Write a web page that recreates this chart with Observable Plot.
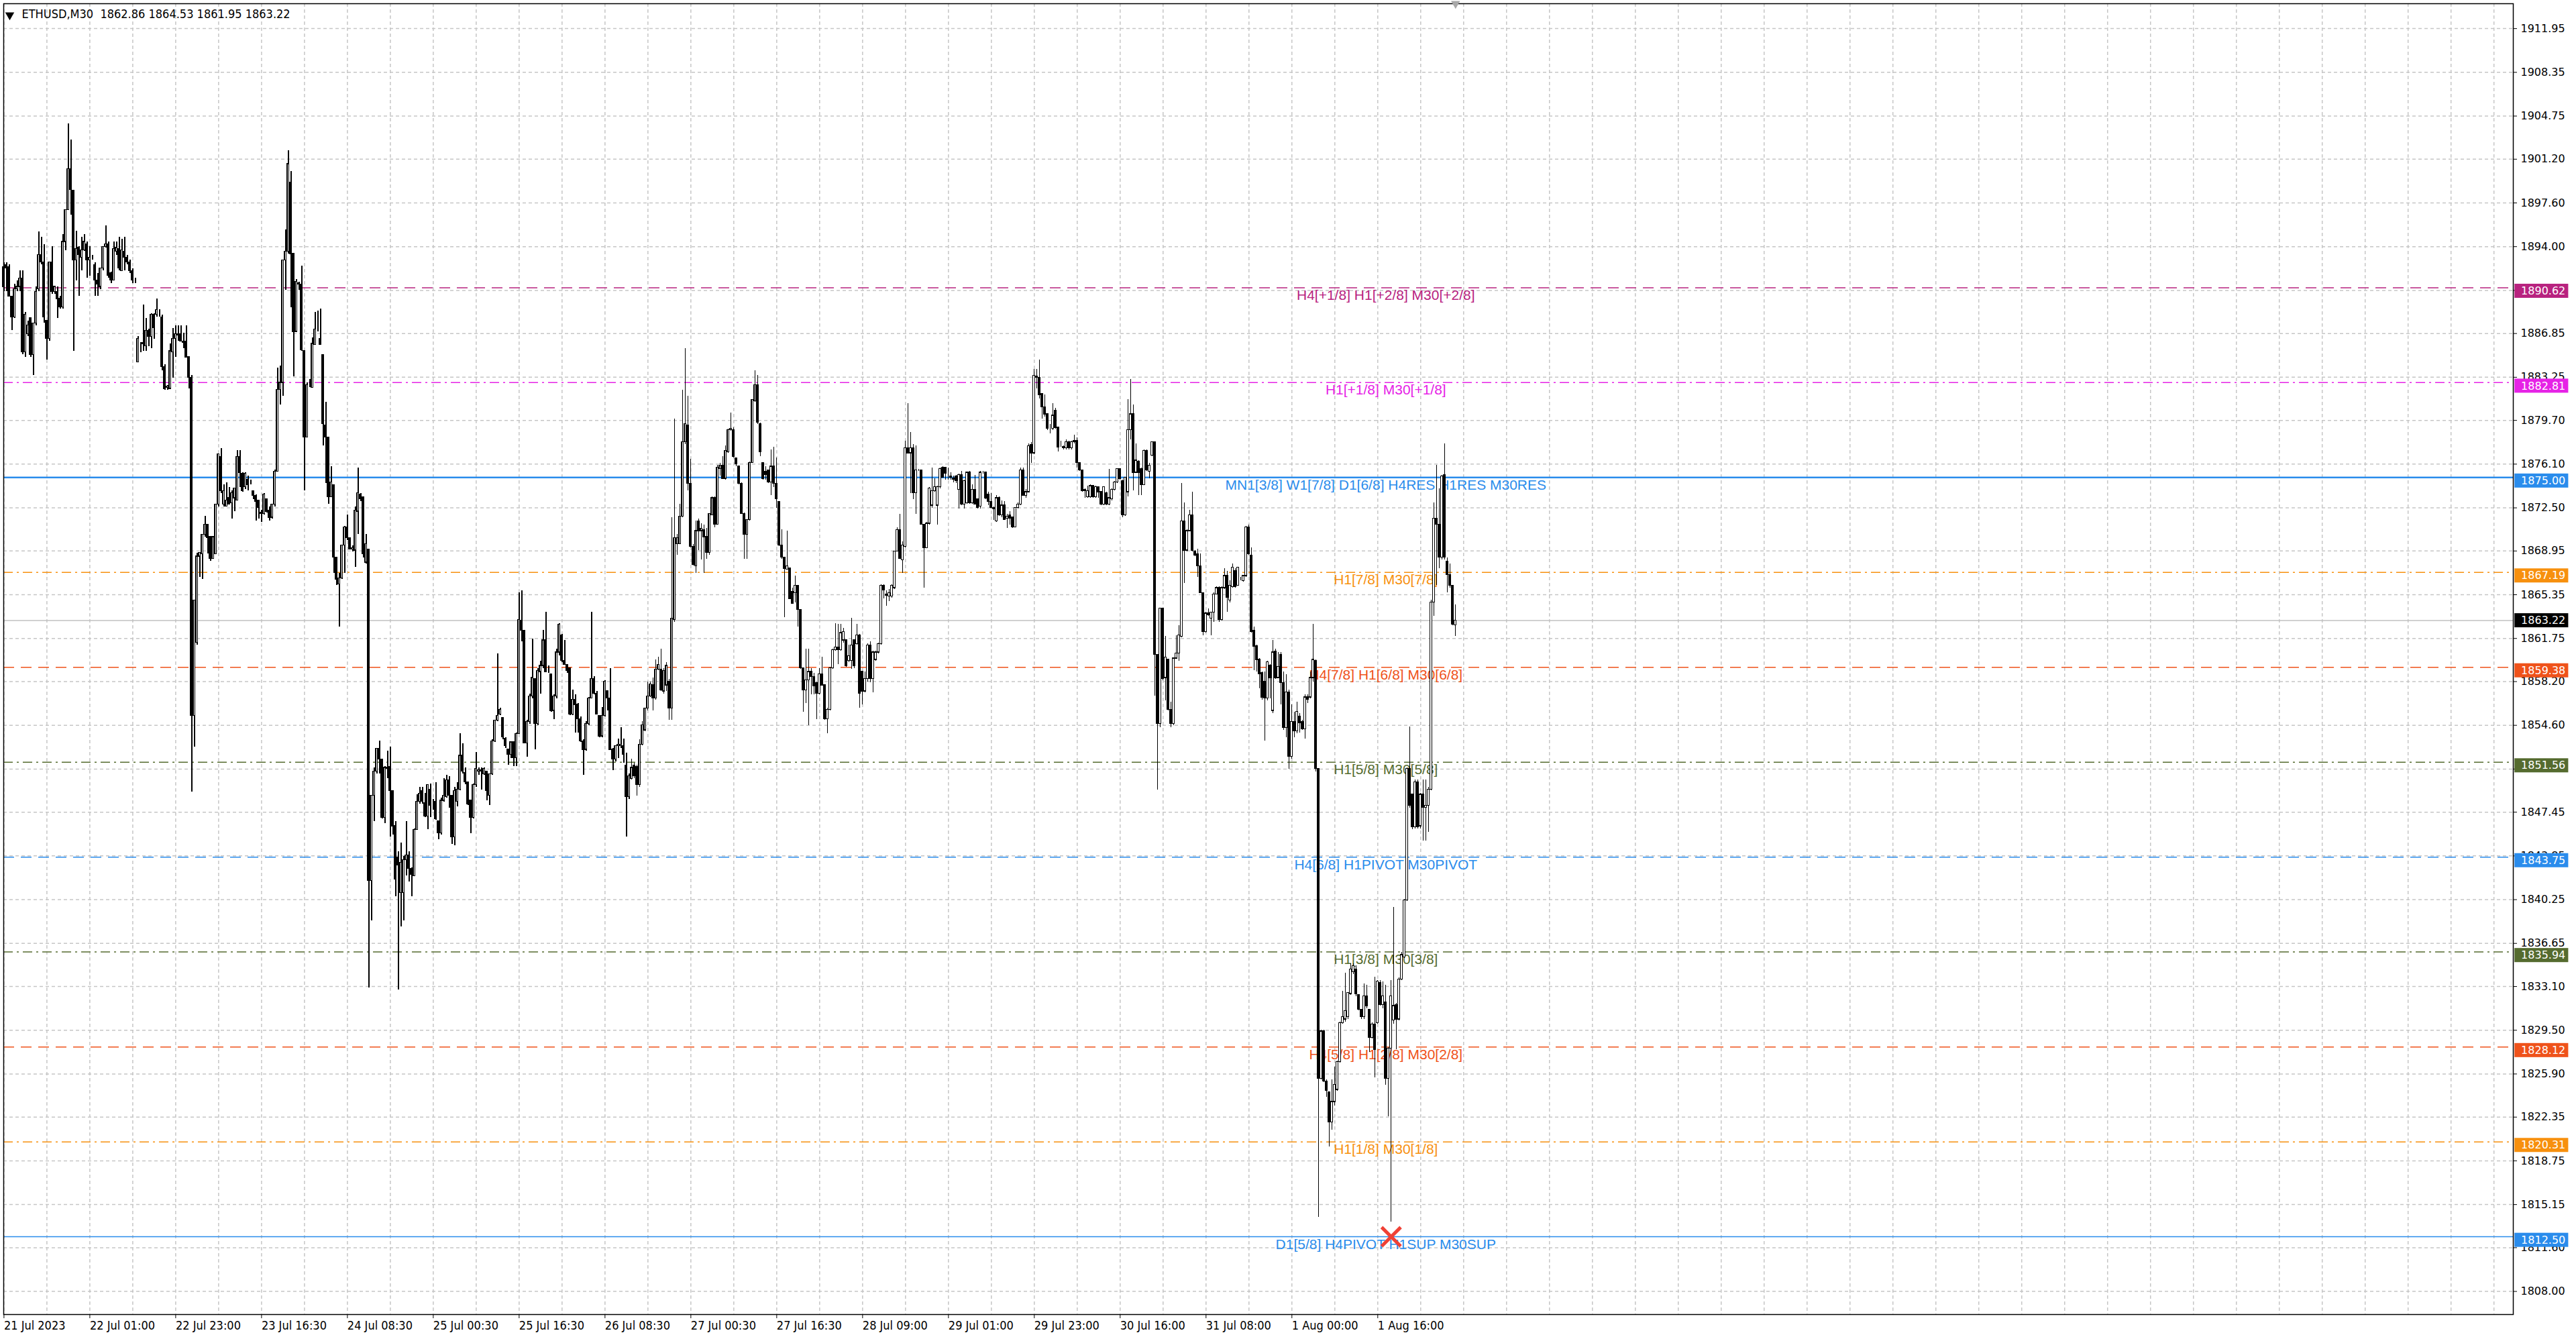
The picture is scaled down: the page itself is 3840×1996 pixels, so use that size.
<!DOCTYPE html>
<html>
<head>
<meta charset="utf-8">
<script src="https://cdn.jsdelivr.net/npm/d3@7"></script>
<script src="https://cdn.jsdelivr.net/npm/@observablehq/plot@0.6"></script>
<style>
  html, body { margin: 0; padding: 0; background: #fff; }
  #chart { width: 3840px; height: 1996px; overflow: hidden; }
</style>
</head>
<body>
<div id="chart"></div>
<script>
// ETHUSD M30 candles, bar 0 = 21 Jul 2023
const open = [
  1890.7,1892.5,1892.3,1889.9,1888.2,1890.5,1890.7,1891.4,1885.3,1886.8,
  1888.1,1885.1,1887.7,1890.5,1893.3,1892.7,1887.9,1886.4,1892.7,1890.3,
  1890.3,1889.7,1889.0,1894.4,1897.0,1900.4,1898.6,1892.9,1893.9,1893.1,
  1893.7,1894.2,1892.9,1893.1,1892.5,1891.2,1890.7,1892.2,1894.0,1894.2,
  1891.8,1891.2,1893.6,1893.8,1892.0,1893.6,1893.1,1892.7,1892.0,1891.3,
  1884.5,1886.0,1886.0,1885.8,1887.1,1886.6,1888.4,1888.4,1888.5,1888.2,
  1884.1,1882.4,1882.3,1885.3,1886.4,1886.8,1886.8,1886.2,1886.2,1884.9,
  1883.2,1855.4,1861.4,1868.5,1868.7,1870.3,1871.1,1870.1,1868.3,1868.7,
  1872.8,1876.7,1872.8,1872.6,1873.3,1872.9,1873.3,1873.1,1876.7,1875.3,
  1874.2,1874.8,1874.6,1873.9,1873.5,1873.1,1872.1,1872.0,1873.2,1872.3,
  1871.7,1872.8,1875.5,1882.2,1882.8,1892.9,1893.6,1899.3,1893.4,1887.0,
  1891.0,1890.9,1885.4,1878.3,1882.5,1882.4,1885.9,1887.1,1886.4,1885.1,
  1879.3,1878.3,1873.4,1874.4,1868.4,1866.2,1866.7,1869.4,1870.9,1870.0,
  1869.1,1869.0,1872.2,1873.6,1873.4,1868.0,1869.1,1841.8,1848.8,1850.8,
  1852.7,1851.8,1847.0,1851.0,1851.2,1849.2,1846.3,1843.7,1840.8,1840.8,
  1843.5,1843.9,1842.8,1842.2,1846.0,1848.3,1849.2,1848.2,1847.1,1849.3,
  1848.1,1848.3,1846.7,1845.7,1848.4,1848.7,1850.1,1848.8,1845.4,1848.3,
  1849.3,1852.1,1850.7,1849.9,1848.4,1847.0,1849.7,1850.8,1850.9,1850.6,
  1850.8,1848.8,1850.6,1853.3,1855.0,1855.5,1855.2,1853.5,1852.6,1852.2,
  1853.2,1851.9,1853.9,1863.2,1862.4,1853.1,1854.9,1857.0,1858.4,1854.7,
  1859.0,1859.5,1861.6,1859.0,1858.8,1855.8,1857.0,1860.6,1862.0,1859.9,
  1859.6,1859.3,1855.5,1856.7,1856.3,1855.1,1853.3,1852.6,1854.7,1856.8,
  1858.4,1857.2,1855.4,1853.7,1855.4,1857.4,1856.8,1852.6,1851.8,1852.9,
  1852.9,1852.9,1851.3,1848.7,1850.2,1851.3,1851.2,1849.7,1853.0,1854.2,
  1856.0,1857.0,1857.9,1856.8,1859.2,1859.2,1857.4,1857.9,1858.2,1856.0,
  1863.3,1869.5,1869.5,1871.8,1877.9,1879.3,1874.5,1869.3,1867.7,1871.4,
  1870.6,1870.7,1870.1,1868.8,1871.9,1873.3,1871.1,1875.7,1876.0,1874.9,
  1877.1,1878.9,1878.9,1876.6,1875.9,1874.5,1872.0,1870.3,1871.5,1876.2,
  1881.3,1882.6,1879.4,1876.2,1875.5,1875.6,1874.6,1875.9,1874.5,1873.0,
  1869.4,1868.4,1867.4,1867.5,1865.6,1865.5,1866.1,1864.1,1859.3,1857.5,
  1858.3,1859.0,1858.6,1858.1,1857.2,1858.8,1857.9,1855.1,1855.9,1859.3,
  1860.8,1861.0,1860.8,1861.6,1861.6,1859.9,1859.9,1861.6,1861.3,1862.0,
  1859.0,1857.4,1858.4,1861.2,1858.4,1860.0,1860.6,1861.3,1866.1,1865.4,
  1865.2,1865.2,1865.9,1868.9,1870.7,1868.2,1869.3,1877.4,1877.0,1877.4,
  1873.7,1875.6,1875.6,1871.1,1869.2,1871.2,1872.7,1873.9,1872.7,1874.2,
  1875.8,1875.8,1875.3,1875.1,1874.9,1875.1,1874.0,1875.2,1872.8,1872.9,
  1875.4,1872.9,1874.0,1873.2,1872.6,1875.4,1875.4,1873.6,1873.0,1872.5,
  1871.4,1873.3,1871.9,1872.7,1871.6,1871.9,1871.7,1870.9,1872.5,1872.8,
  1875.6,1873.5,1873.8,1877.7,1877.0,1883.2,1883.2,1881.9,1880.8,1880.2,
  1879.0,1879.0,1880.5,1879.1,1877.6,1877.5,1877.4,1877.9,1877.4,1877.9,
  1878.0,1876.2,1875.6,1874.0,1873.4,1873.4,1874.3,1873.4,1874.2,1873.8,
  1872.8,1873.7,1872.8,1873.2,1874.0,1874.6,1875.7,1874.7,1871.9,1873.8,
  1878.9,1880.2,1875.4,1876.3,1875.7,1874.4,1877.2,1875.5,1876.8,1877.9,
  1860.4,1854.7,1864.2,1858.5,1860.0,1855.9,1854.7,1860.1,1860.5,1861.9,
  1871.4,1869.0,1870.6,1871.9,1868.9,1868.7,1867.7,1865.5,1862.3,1863.8,
  1863.4,1863.9,1865.4,1865.9,1863.3,1865.9,1866.9,1864.9,1866.0,1867.3,
  1866.1,1866.7,1866.5,1866.9,1870.9,1868.6,1862.4,1861.1,1860.0,1858.9,
  1858.2,1856.8,1859.5,1855.8,1860.7,1858.5,1860.4,1858.1,1854.4,1857.3,
  1852.0,1854.9,1854.1,1855.3,1854.9,1854.3,1856.9,1856.9,1858.5,1859.9,
  1851.0,1825.5,1829.4,1825.3,1824.4,1821.9,1823.6,1824.6,1826.9,1830.1,
  1830.4,1830.6,1832.5,1834.3,1834.5,1832.4,1831.2,1830.6,1832.3,1831.2,
  1828.9,1830.0,1830.1,1833.4,1831.6,1831.8,1825.5,1828.0,1830.3,1831.6,
  1830.4,1833.7,1835.5,1840.2,1851.0,1848.9,1846.2,1849.9,1846.3,1848.9,
  1847.8,1848.0,1849.3,1864.7,1871.6,1871.1,1868.4,1875.2,1868.1,1867.0,
  1866.1,1862.86
];
const high = [
  1892.7,1892.7,1892.5,1889.9,1890.9,1891.2,1892.0,1892.0,1888.6,1887.9,
  1888.1,1887.7,1890.7,1895.2,1894.8,1894.2,1887.9,1892.7,1894.0,1890.7,
  1890.7,1889.9,1895.0,1897.0,1904.1,1902.8,1898.6,1895.3,1894.0,1894.8,
  1895.0,1894.4,1894.0,1893.3,1892.7,1891.8,1892.2,1894.0,1895.7,1894.4,
  1891.9,1894.4,1894.4,1894.8,1894.6,1894.8,1893.3,1892.9,1892.2,1891.4,
  1886.6,1886.1,1889.2,1888.1,1887.2,1888.5,1888.5,1889.7,1888.8,1888.4,
  1884.3,1882.6,1886.0,1887.3,1887.5,1887.5,1887.5,1886.9,1887.5,1884.9,
  1883.4,1864.9,1868.8,1868.8,1870.3,1871.8,1871.1,1870.1,1870.1,1872.8,
  1876.9,1877.4,1874.4,1874.6,1874.2,1873.9,1874.1,1877.2,1877.2,1875.4,
  1875.4,1875.1,1874.8,1873.9,1873.6,1873.1,1872.3,1873.7,1873.2,1872.6,
  1872.8,1875.6,1884.0,1884.2,1892.9,1895.4,1901.9,1900.2,1893.4,1891.3,
  1891.1,1892.4,1885.4,1882.8,1883.1,1886.5,1888.6,1888.7,1888.9,1885.1,
  1881.2,1878.3,1875.9,1874.4,1868.4,1867.1,1869.4,1871.0,1871.9,1870.0,
  1869.4,1872.6,1875.8,1873.7,1873.4,1870.3,1869.1,1848.8,1851.1,1852.7,
  1853.3,1851.8,1851.2,1852.5,1852.8,1849.2,1846.7,1844.2,1844.9,1843.8,
  1846.7,1844.2,1842.9,1846.1,1848.9,1849.5,1849.5,1849.0,1849.7,1849.8,
  1848.5,1849.9,1846.7,1848.6,1850.2,1850.5,1850.4,1848.8,1849.5,1849.9,
  1853.9,1853.1,1851.1,1849.9,1848.4,1849.8,1852.4,1851.1,1851.1,1851.1,
  1850.8,1850.6,1853.4,1855.0,1860.5,1856.0,1855.2,1853.6,1852.6,1853.2,
  1853.2,1854.0,1865.5,1865.7,1862.4,1855.0,1857.2,1861.7,1858.4,1859.3,
  1859.9,1862.4,1863.9,1859.5,1858.8,1857.1,1860.9,1863.0,1862.1,1861.6,
  1859.6,1859.3,1857.5,1857.1,1856.4,1855.3,1853.4,1854.9,1856.9,1863.9,
  1858.6,1857.4,1855.4,1856.1,1858.3,1857.4,1859.3,1852.7,1852.9,1853.5,
  1854.4,1853.5,1852.3,1850.6,1851.8,1851.5,1851.3,1853.4,1854.9,1856.0,
  1858.2,1858.2,1858.5,1860.0,1860.2,1860.9,1859.3,1859.8,1858.4,1871.7,
  1879.8,1870.3,1872.8,1882.2,1885.6,1881.7,1876.5,1869.5,1871.4,1871.6,
  1871.2,1871.1,1870.8,1872.0,1873.4,1873.4,1876.0,1876.2,1876.7,1877.6,
  1879.0,1880.3,1879.1,1876.6,1875.9,1874.6,1872.1,1871.5,1876.3,1881.4,
  1883.8,1883.4,1879.5,1876.2,1875.9,1875.6,1877.3,1877.5,1876.6,1873.0,
  1870.7,1868.4,1870.6,1867.5,1865.9,1866.9,1866.1,1864.1,1859.3,1860.9,
  1860.9,1859.3,1858.9,1858.2,1859.3,1860.2,1857.9,1856.0,1859.4,1860.9,
  1863.0,1862.9,1862.9,1862.6,1861.6,1861.2,1863.4,1861.6,1862.9,1862.1,
  1859.0,1859.0,1861.3,1861.5,1860.7,1860.7,1861.4,1866.2,1866.2,1865.7,
  1865.8,1866.2,1868.9,1870.9,1872.0,1869.7,1878.0,1881.1,1878.7,1877.7,
  1877.6,1875.7,1875.6,1871.1,1871.3,1874.2,1875.8,1874.9,1874.3,1875.8,
  1875.9,1875.8,1875.8,1875.4,1875.1,1875.2,1875.3,1875.5,1874.8,1875.4,
  1875.5,1874.4,1875.2,1873.2,1875.5,1875.5,1875.4,1873.8,1873.7,1872.6,
  1873.5,1873.4,1873.1,1873.0,1872.0,1872.2,1871.7,1872.5,1872.9,1875.8,
  1875.8,1874.0,1877.8,1877.9,1883.9,1883.9,1884.7,1881.9,1881.8,1880.2,
  1879.4,1881.1,1880.7,1879.1,1878.0,1877.6,1878.1,1878.0,1878.0,1878.5,
  1878.3,1876.2,1875.6,1874.1,1874.3,1874.4,1874.3,1874.3,1874.2,1873.8,
  1874.2,1873.8,1875.7,1874.1,1874.7,1875.7,1875.7,1874.8,1875.0,1881.4,
  1883.1,1881.0,1877.8,1876.4,1875.8,1877.3,1877.3,1876.2,1877.9,1877.9,
  1860.4,1864.2,1864.2,1861.9,1860.0,1856.5,1860.1,1862.0,1862.8,1874.5,
  1872.9,1870.7,1872.3,1873.8,1869.0,1869.1,1868.7,1865.5,1863.9,1864.2,
  1863.9,1865.5,1866.0,1866.0,1866.0,1867.5,1867.3,1866.5,1867.9,1867.5,
  1867.6,1866.8,1866.9,1871.0,1871.1,1869.2,1862.7,1861.2,1860.1,1859.0,
  1859.0,1859.9,1859.6,1861.6,1860.9,1860.6,1860.6,1859.0,1858.8,1857.5,
  1856.3,1855.7,1856.5,1855.6,1855.0,1857.1,1857.1,1859.0,1862.9,1860.0,
  1851.0,1829.5,1829.5,1825.4,1824.4,1825.4,1826.5,1827.0,1830.2,1832.7,
  1834.2,1832.6,1835.0,1835.0,1834.8,1832.4,1831.2,1833.3,1833.2,1831.2,
  1830.1,1833.9,1833.6,1833.6,1833.5,1833.2,1828.1,1833.6,1839.6,1831.7,
  1833.8,1835.9,1840.3,1851.1,1854.5,1848.9,1850.1,1850.1,1849.0,1850.1,
  1850.1,1849.5,1864.9,1872.9,1876.0,1874.1,1875.2,1877.8,1868.4,1867.9,
  1866.1,1864.53
];
const low = [
  1890.3,1890.3,1889.9,1887.1,1888.1,1890.3,1890.3,1885.1,1884.9,1886.6,
  1884.9,1883.4,1887.5,1890.3,1892.5,1887.7,1884.7,1886.2,1890.1,1890.1,
  1888.1,1888.9,1888.9,1893.7,1897.0,1896.6,1885.4,1891.2,1889.9,1892.0,
  1893.6,1891.4,1891.6,1892.9,1889.9,1889.9,1890.5,1892.0,1893.9,1891.4,
  1891.0,1891.2,1893.3,1892.0,1892.0,1892.0,1892.5,1891.8,1891.0,1891.0,
  1884.5,1885.3,1885.4,1885.4,1885.8,1885.6,1886.4,1888.2,1888.2,1883.8,
  1882.2,1882.2,1882.3,1883.2,1884.9,1886.2,1886.2,1885.6,1884.9,1882.3,
  1849.1,1852.8,1861.2,1866.8,1866.6,1870.1,1868.7,1868.1,1868.3,1868.7,
  1872.6,1873.7,1872.6,1872.6,1872.8,1871.6,1872.2,1873.1,1874.2,1873.8,
  1874.0,1873.9,1874.4,1873.2,1871.4,1871.6,1871.3,1871.9,1872.1,1871.4,
  1871.6,1872.6,1875.5,1881.0,1881.7,1890.4,1893.4,1889.0,1883.3,1887.0,
  1890.4,1885.4,1873.9,1878.3,1882.4,1882.4,1885.9,1887.0,1885.9,1877.6,
  1874.5,1872.8,1873.4,1867.1,1866.1,1862.7,1866.6,1867.1,1869.8,1869.1,
  1868.9,1867.6,1870.3,1873.0,1868.4,1867.9,1833.0,1838.5,1846.7,1850.6,
  1850.6,1846.9,1846.5,1850.2,1845.4,1845.6,1840.5,1832.8,1838.0,1838.5,
  1842.2,1841.7,1840.5,1842.2,1846.0,1848.1,1848.1,1847.0,1846.0,1847.0,
  1847.6,1846.8,1845.2,1845.6,1848.3,1848.6,1847.8,1844.8,1844.7,1847.9,
  1849.2,1850.6,1849.7,1848.0,1845.7,1846.9,1849.5,1850.5,1849.3,1850.5,
  1848.4,1848.0,1850.5,1853.2,1854.9,1855.4,1853.4,1852.7,1851.3,1851.9,
  1851.2,1851.2,1853.9,1861.5,1853.1,1852.0,1854.7,1856.8,1852.6,1854.6,
  1857.2,1859.3,1859.0,1858.9,1855.7,1855.1,1856.8,1860.3,1859.8,1859.6,
  1858.9,1855.4,1855.4,1854.0,1854.0,1853.2,1850.5,1852.5,1854.6,1856.8,
  1857.1,1855.5,1853.6,1853.6,1855.3,1855.8,1852.6,1850.9,1851.6,1851.9,
  1852.7,1851.5,1845.4,1848.5,1850.1,1850.2,1848.8,1849.5,1852.9,1854.1,
  1855.8,1856.9,1855.8,1856.7,1859.1,1857.4,1857.2,1857.4,1855.0,1855.0,
  1863.1,1868.6,1869.5,1871.7,1877.7,1873.9,1869.2,1867.7,1867.1,1869.0,
  1868.2,1867.1,1868.3,1868.6,1871.9,1870.9,1871.1,1875.1,1874.9,1874.8,
  1877.0,1878.8,1876.6,1875.9,1874.4,1872.0,1868.3,1868.3,1871.4,1876.2,
  1881.2,1879.4,1876.7,1874.8,1874.8,1874.5,1873.5,1874.2,1872.5,1869.3,
  1868.3,1863.5,1867.4,1865.0,1864.6,1864.7,1862.7,1859.2,1855.7,1856.4,
  1854.6,1857.1,1857.1,1855.1,1857.1,1857.9,1855.0,1853.9,1855.8,1859.2,
  1860.7,1859.6,1860.7,1861.4,1859.4,1859.8,1859.2,1859.3,1861.2,1856.0,
  1856.3,1857.3,1858.2,1858.1,1857.3,1859.9,1860.5,1861.2,1865.0,1864.4,
  1864.8,1865.1,1865.8,1868.9,1868.3,1867.1,1869.2,1877.0,1873.7,1873.2,
  1872.0,1875.5,1871.1,1865.9,1869.2,1871.1,1872.5,1873.8,1871.1,1874.1,
  1875.0,1874.8,1874.8,1874.8,1874.6,1874.5,1872.4,1872.7,1872.4,1872.8,
  1872.8,1872.8,1872.8,1872.4,1872.4,1875.3,1873.2,1872.7,1872.4,1871.5,
  1871.3,1871.8,1871.7,1871.5,1870.8,1871.1,1870.8,1870.9,1872.4,1872.7,
  1873.5,1873.3,1873.8,1876.2,1876.9,1882.3,1881.5,1879.8,1880.0,1878.9,
  1878.6,1878.9,1879.0,1877.1,1877.5,1877.3,1877.3,1877.3,1877.3,1877.8,
  1875.8,1875.5,1873.8,1873.3,1873.3,1873.3,1873.3,1873.3,1873.3,1872.7,
  1872.7,1872.7,1872.7,1873.1,1873.9,1874.5,1874.8,1871.7,1871.8,1873.4,
  1878.1,1873.9,1875.4,1873.5,1873.5,1874.4,1875.5,1874.9,1876.7,1857.0,
  1849.3,1854.4,1858.3,1856.6,1855.8,1854.4,1854.6,1860.1,1859.9,1861.8,
  1866.3,1868.9,1870.6,1868.9,1868.5,1866.8,1865.5,1862.0,1862.2,1863.6,
  1862.0,1863.1,1865.4,1863.1,1863.2,1865.8,1863.9,1864.7,1865.9,1865.9,
  1866.1,1866.5,1866.4,1866.8,1868.6,1862.2,1859.1,1859.0,1857.6,1856.7,
  1853.3,1856.6,1856.8,1855.6,1858.4,1858.5,1856.3,1854.2,1853.6,1851.0,
  1851.8,1853.6,1853.9,1854.0,1854.2,1853.5,1856.4,1856.8,1858.2,1850.8,
  1814.1,1825.4,1825.2,1824.0,1819.9,1821.3,1823.3,1824.5,1826.8,1830.0,
  1830.2,1830.4,1832.4,1834.1,1832.3,1831.1,1830.4,1830.4,1831.3,1827.7,
  1828.8,1825.6,1830.0,1831.5,1831.3,1825.0,1822.4,1813.7,1830.0,1827.9,
  1830.3,1833.6,1835.4,1840.1,1847.8,1846.0,1846.1,1846.1,1846.1,1845.1,
  1845.1,1845.8,1849.2,1863.6,1866.1,1867.5,1868.2,1868.2,1865.5,1865.9,
  1862.8,1861.95
];
const close = [
  1892.3,1892.2,1889.9,1888.2,1890.5,1890.7,1891.4,1885.3,1888.4,1887.5,
  1885.1,1887.7,1890.3,1893.3,1892.7,1888.2,1886.4,1892.7,1890.3,1890.7,
  1889.7,1889.0,1894.4,1897.0,1900.4,1898.7,1892.9,1893.8,1893.3,1893.7,
  1894.4,1892.9,1893.1,1893.1,1891.2,1890.9,1892.2,1894.0,1894.2,1891.6,
  1891.2,1893.8,1893.9,1892.2,1893.7,1893.1,1892.7,1892.0,1891.2,1891.3,
  1886.4,1886.0,1886.1,1887.1,1886.6,1888.4,1887.3,1888.8,1888.5,1884.1,
  1882.3,1882.5,1885.4,1886.4,1886.8,1886.7,1886.2,1886.1,1884.9,1883.2,
  1855.4,1864.9,1868.5,1868.8,1870.3,1871.1,1870.0,1868.3,1870.1,1872.8,
  1876.9,1873.9,1873.9,1873.1,1872.8,1873.7,1874.1,1876.7,1875.4,1873.9,
  1875.3,1874.4,1874.6,1873.5,1873.0,1872.5,1872.0,1873.6,1872.2,1871.7,
  1872.8,1875.5,1882.2,1882.8,1892.9,1893.6,1900.8,1893.4,1887.0,1891.1,
  1890.9,1885.5,1878.3,1882.6,1882.5,1886.0,1887.2,1887.1,1885.9,1879.4,
  1878.3,1873.4,1874.6,1868.4,1866.6,1866.7,1869.4,1870.9,1870.0,1869.1,
  1869.2,1872.3,1873.7,1873.2,1868.7,1869.5,1841.8,1848.8,1850.8,1852.7,
  1851.8,1847.0,1851.1,1851.1,1849.2,1846.3,1841.9,1843.1,1843.3,1843.5,
  1843.9,1842.8,1842.3,1846.0,1848.3,1849.0,1848.3,1847.1,1849.7,1848.0,
  1848.1,1846.9,1845.7,1848.4,1848.8,1850.1,1848.8,1845.4,1849.2,1849.3,
  1852.1,1850.8,1849.9,1848.1,1847.0,1849.7,1851.0,1850.9,1850.8,1851.0,
  1849.2,1850.6,1853.3,1855.0,1855.4,1855.9,1853.6,1852.9,1852.2,1853.2,
  1851.9,1853.9,1863.3,1862.4,1853.1,1854.9,1857.0,1858.5,1854.7,1859.1,
  1859.5,1861.6,1859.0,1859.0,1855.8,1857.0,1860.6,1862.9,1859.9,1859.6,
  1859.1,1855.5,1856.7,1856.3,1855.1,1853.3,1852.6,1854.7,1856.8,1858.4,
  1857.2,1855.5,1853.7,1855.4,1858.2,1856.8,1852.6,1851.8,1852.9,1853.0,
  1853.0,1852.2,1848.7,1850.4,1851.1,1850.4,1849.7,1853.0,1854.6,1856.0,
  1857.0,1858.0,1856.8,1859.2,1859.6,1857.5,1859.1,1859.5,1856.0,1863.4,
  1870.0,1870.0,1871.8,1877.9,1879.4,1874.5,1869.3,1867.8,1870.6,1870.6,
  1870.8,1870.1,1868.8,1872.0,1873.3,1871.1,1875.8,1876.0,1874.9,1877.2,
  1878.9,1879.0,1876.7,1876.1,1874.5,1872.0,1870.3,1871.5,1876.2,1881.4,
  1882.6,1879.5,1877.1,1874.9,1875.2,1874.6,1875.9,1874.5,1873.2,1869.4,
  1868.4,1867.5,1867.7,1865.0,1864.6,1866.1,1864.1,1859.3,1857.5,1858.3,
  1859.0,1858.6,1857.8,1857.2,1858.8,1857.9,1855.1,1855.9,1859.3,1860.8,
  1861.0,1860.8,1862.2,1862.3,1859.5,1860.3,1861.2,1859.5,1862.0,1857.2,
  1857.4,1858.4,1861.2,1858.4,1860.6,1860.6,1861.3,1866.1,1865.7,1865.3,
  1865.5,1866.1,1868.9,1870.7,1868.3,1869.4,1877.4,1877.0,1877.4,1873.7,
  1875.6,1875.6,1871.1,1869.2,1871.2,1874.1,1873.9,1874.2,1874.2,1875.7,
  1875.0,1875.3,1875.3,1875.0,1874.8,1874.7,1875.2,1872.8,1874.7,1875.4,
  1872.9,1874.0,1872.8,1872.5,1875.4,1875.4,1873.3,1873.0,1872.5,1872.4,
  1873.3,1871.9,1872.7,1871.5,1871.8,1871.6,1870.9,1872.5,1872.8,1875.6,
  1873.5,1873.8,1877.6,1877.0,1883.4,1883.3,1881.8,1880.8,1880.2,1879.0,
  1879.0,1880.1,1879.1,1877.5,1877.6,1877.4,1877.9,1877.4,1877.9,1878.0,
  1876.2,1875.6,1873.9,1873.9,1873.9,1874.3,1873.4,1874.2,1873.8,1872.8,
  1874.2,1872.8,1873.3,1874.0,1874.6,1875.7,1874.9,1871.9,1875.0,1878.9,
  1880.2,1875.4,1876.4,1875.4,1874.4,1877.2,1875.6,1876.0,1877.9,1860.4,
  1854.7,1864.2,1858.4,1860.2,1855.9,1854.7,1860.1,1860.5,1862.0,1871.4,
  1869.0,1870.6,1871.9,1869.0,1868.6,1867.7,1865.5,1862.3,1863.8,1863.7,
  1863.9,1865.4,1865.9,1863.3,1865.9,1866.9,1865.1,1866.1,1867.6,1866.0,
  1867.6,1866.7,1866.9,1870.9,1868.7,1862.3,1861.1,1860.0,1858.8,1856.9,
  1856.8,1859.8,1858.5,1860.6,1858.5,1859.4,1858.1,1854.4,1857.3,1852.0,
  1854.9,1854.1,1855.7,1854.8,1854.3,1856.9,1856.7,1858.5,1860.0,1851.0,
  1825.5,1829.4,1825.3,1824.5,1821.9,1823.6,1825.0,1826.9,1830.1,1830.6,
  1831.1,1832.6,1834.5,1834.8,1832.5,1831.2,1830.6,1832.3,1831.5,1828.9,
  1830.0,1827.9,1833.5,1831.6,1832.3,1825.5,1828.0,1832.3,1831.5,1830.4,
  1833.7,1835.7,1840.2,1851.0,1848.0,1846.2,1849.9,1846.2,1848.9,1847.8,
  1848.0,1849.3,1864.7,1871.6,1871.1,1868.4,1875.1,1868.4,1867.0,1866.1,
  1862.9,1863.22
];

// time axis: one label every 32 bars
const tickBars = [0, 32, 64, 96, 128, 160, 192, 224, 256, 288, 320, 352, 384, 416, 448, 480, 512];
const tickLabels = ["21 Jul 2023", "22 Jul 01:00", "22 Jul 23:00", "23 Jul 16:30", "24 Jul 08:30",
  "25 Jul 00:30", "25 Jul 16:30", "26 Jul 08:30", "27 Jul 00:30", "27 Jul 16:30", "28 Jul 09:00",
  "29 Jul 01:00", "29 Jul 23:00", "30 Jul 16:00", "31 Jul 08:00", "1 Aug 00:00", "1 Aug 16:00"];

// price axis (grid at every tick; two labels sit fully under level boxes)
const yTicks = [1911.95, 1908.35, 1904.75, 1901.20, 1897.60, 1894.00, 1890.40, 1886.85, 1883.25,
  1879.70, 1876.10, 1872.50, 1868.95, 1865.35, 1861.75, 1858.20, 1854.60, 1851.00, 1847.45,
  1843.85, 1840.25, 1836.65, 1833.10, 1829.50, 1825.90, 1822.35, 1818.75, 1815.15, 1811.60, 1808.00];
const hiddenTicks = [1890.40, 1851.00];

// Murrey math levels
const levelPrice = [1890.62, 1882.81, 1875.00, 1867.19, 1859.38, 1851.56, 1843.75, 1835.94, 1828.12, 1820.31, 1812.50];
const levelText = [
  "H4[+1/8] H1[+2/8] M30[+2/8]",
  "H1[+1/8] M30[+1/8]",
  "MN1[3/8] W1[7/8] D1[6/8] H4RES H1RES M30RES",
  "H1[7/8] M30[7/8]",
  "H4[7/8] H1[6/8] M30[6/8]",
  "H1[5/8] M30[5/8]",
  "H4[6/8] H1PIVOT M30PIVOT",
  "H1[3/8] M30[3/8]",
  "H4[5/8] H1[2/8] M30[2/8]",
  "H1[1/8] M30[1/8]",
  "D1[5/8] H4PIVOT H1SUP M30SUP"
];

// red cross marker
const markBar = 517;
const markPrice = 1812.5;

// ---- styles ----
const levelColor = ["#b8227f", "#e622e6", "#2a8cec", "#f7900e", "#ef521a", "#556b2f",
  "#2a8cec", "#556b2f", "#ef521a", "#f7900e", "#2a8cec"];
const longDash = "16,10", dashDot = "14,6,3,6";
const levelDash = [longDash, dashDot, null, dashDot, longDash, dashDot, longDash, dashDot, longDash, dashDot, null];
const levelWidth = [1.5, 1.5, 2.5, 1.5, 1.5, 1.5, 1.5, 1.5, 1.5, 1.5, 1.5];

const xMax = 935.2;       // bars that fit up to the price scale
const labelBar = 515;     // where the level captions sit
const boxDrop = 0.28;     // level price boxes sit a few px under their line
const gridBars = d3.range(0, 936, 16);

const bars = close.map((c, i) => ({i, o: open[i], h: high[i], l: low[i], c, up: c >= open[i]}));
const last = bars[bars.length - 1];

const levels = levelPrice.map((p, k) => ({
  price: p, text: levelText[k], color: levelColor[k], dash: levelDash[k], width: levelWidth[k], at: p - boxDrop
}));
const boxes = [...levels, {price: last.c, color: "#000", at: last.c}];

const header = `ETHUSD,M30  ${last.o.toFixed(2)} ${last.h.toFixed(2)} ${last.l.toFixed(2)} ${last.c.toFixed(2)}`;

const gridStyle = {stroke: "#c6c6c6", strokeOpacity: 1, strokeWidth: 1.5, strokeDasharray: "5,4"};

let chart = Plot.plot({
  width: 3840,
  height: 1996,
  marginTop: 5,
  marginRight: 94,
  marginBottom: 37,
  marginLeft: 5,
  x: {type: "linear", domain: [-0.1, xMax]},
  y: {domain: [1806.1, 1914.0]},
  style: {background: "#fff", color: "#000", fontFamily: "'DejaVu Sans', sans-serif"},
  marks: [
    Plot.ruleY(yTicks, gridStyle),
    Plot.ruleX(gridBars, gridStyle),
    ...levels.map(d => Plot.ruleY([d.price], {stroke: d.color, strokeWidth: d.width, strokeDasharray: d.dash})),
    Plot.ruleY([last.c], {stroke: "#c0c0c0", strokeWidth: 1.5}),
    Plot.text(levels, {
      x: () => labelBar, y: "price", text: "text", fill: "color",
      fontSize: 21, fontFamily: "'Liberation Sans', Arial, sans-serif", lineAnchor: "top", dy: 3
    }),
    // candles
    Plot.ruleX(bars, {x: "i", y1: "l", y2: "h", stroke: "#000", strokeWidth: 1.3, shapeRendering: "crispEdges"}),
    Plot.rect(bars, {
      x1: d => d.i - 0.36, x2: d => d.i + 0.36, y1: "o", y2: "c",
      fill: d => d.up ? "#fff" : "#000", stroke: "#000", strokeWidth: 1.2, shapeRendering: "crispEdges"
    }),
    Plot.dot([{i: markBar, p: markPrice}], {x: "i", y: "p", symbol: "times", r: 13, stroke: "#ef4136", strokeWidth: 5}),
    Plot.frame({stroke: "#000", strokeWidth: 1.5}),
    Plot.dot([last.i], {x: d => d, frameAnchor: "top", symbol: "triangle", rotate: 180, r: 5, fill: "#a8a8a8", stroke: null}),
    // axes
    Plot.axisX({
      ticks: tickBars, tickFormat: d => tickLabels[tickBars.indexOf(d)], label: null,
      textAnchor: "start", tickSize: 6, tickPadding: 4, fontSize: 18,
      fontFamily: "'DejaVu Sans Condensed', 'DejaVu Sans', sans-serif"
    }),
    Plot.axisY({
      anchor: "right", ticks: yTicks, label: null,
      tickFormat: d => hiddenTicks.includes(d) ? "" : d.toFixed(2),
      tickSize: 5, tickPadding: 6, fontSize: 16
    }),
    // price boxes on the scale
    Plot.rect(boxes, {
      x1: () => xMax + 0.55, x2: () => xMax + 20.6,
      y1: d => d.at - 0.58, y2: d => d.at + 0.58, fill: "color"
    }),
    Plot.text(boxes, {
      x: () => xMax + 2.9, y: "at", text: d => d.price.toFixed(2),
      fill: "#fff", textAnchor: "start", fontSize: 16
    }),
    // header
    Plot.dot([0], {frameAnchor: "top-left", dx: 9, dy: 17, symbol: "triangle", rotate: 180, r: 5, fill: "#000", stroke: null}),
    Plot.text([header], {
      text: d => d, frameAnchor: "top-left", dx: 27, dy: 9, lineAnchor: "top",
      fontSize: 18, fontFamily: "'DejaVu Sans Condensed', 'DejaVu Sans', sans-serif"
    })
  ]
});

d3.select('#chart').append(() => chart);
</script>
</body>
</html>
